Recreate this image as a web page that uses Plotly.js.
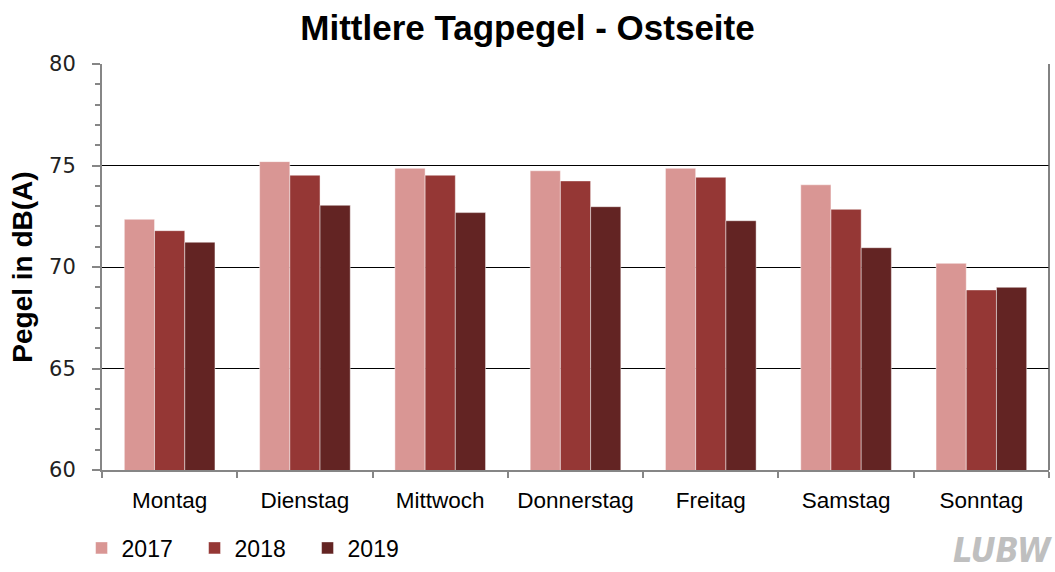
<!DOCTYPE html>
<html>
<head>
<meta charset="utf-8">
<script src="https://cdn.plot.ly/plotly-3.0.1.min.js"></script>
<style>html,body{margin:0;padding:0;background:#fff;}#chart{width:1055px;height:572px;}</style>
</head>
<body>
<div id="chart"></div>
<script>
const categories = ["Montag", "Dienstag", "Mittwoch", "Donnerstag", "Freitag", "Samstag", "Sonntag"];
const values2017 = [72.35, 75.19, 74.86, 74.74, 74.86, 74.05, 70.18];
const values2018 = [71.79, 74.52, 74.52, 74.24, 74.42, 72.84, 68.87];
const values2019 = [71.22, 73.04, 72.68, 72.97, 72.28, 70.95, 69.00];
const seriesNames = ["2017", "2018", "2019"];
const seriesColors = ["#D99694", "#953735", "#632423"];
const yTicks = [60, 65, 70, 75, 80];

const allValues = [values2017, values2018, values2019];
const traces = allValues.map((vals, i) => ({
  type: "bar",
  name: seriesNames[i],
  x: categories,
  y: vals,
  marker: {color: seriesColors[i], line: {color: "rgba(255,255,255,0.45)", width: 1}},
  hoverinfo: "x+y+name"
}));

const font = "Liberation Sans, Arial, sans-serif";
const layout = {
  width: 1055, height: 572,
  margin: {l: 102, r: 6, t: 64, b: 102, autoexpand: false},
  paper_bgcolor: "#fff", plot_bgcolor: "#fff",
  title: {text: "<b>Mittlere Tagpegel - Ostseite</b>", font: {family: font, size: 35, color: "#000"},
          x: 0.5, xanchor: "center", y: 0.951, yanchor: "middle"},
  bargap: 0.33, bargroupgap: 0,
  barmode: "group",
  xaxis: {
    type: "category", automargin: false,
    showline: true, linecolor: "#868686", linewidth: 2,
    ticks: "outside", tickson: "boundaries", ticklen: 6, tickcolor: "#868686", tickwidth: 2,
    tickfont: {family: font, size: 22.5, color: "#000"},
    ticklabelstandoff: 9,
    showgrid: false, zeroline: false
  },
  yaxis: {
    range: [60, 80], tickvals: yTicks, ticktext: yTicks.map(String), automargin: false,
    showline: true, linecolor: "#868686", linewidth: 2,
    ticks: "outside", ticklen: 8, tickcolor: "#868686", tickwidth: 2,
    minor: {dtick: 1, ticks: "outside", ticklen: 5, tickcolor: "#868686", tickwidth: 2, showgrid: false},
    showgrid: true, gridcolor: "#000", gridwidth: 1,
    tickfont: {family: "DejaVu Sans, sans-serif", size: 21, color: "#222"},
    ticklabelstandoff: 12,
    title: {text: "<b>Pegel in dB(A)</b>", font: {family: font, size: 28, color: "#000"}, standoff: 8},
    zeroline: false
  },
  showlegend: true,
  legend: {
    orientation: "h", x: -0.0216, xanchor: "left", y: -0.192, yanchor: "middle",
    font: {family: font, size: 23, color: "#000"},
    entrywidth: 68, entrywidthmode: "pixels", traceorder: "normal",
    bgcolor: "rgba(0,0,0,0)"
  },
  shapes: [
    {type: "line", xref: "paper", yref: "paper", x0: 1, x1: 1, y0: 0, y1: 1, line: {color: "#595959", width: 1.5}}
  ],
  annotations: [
    {text: "<b><i>LUBW</i></b>", xref: "paper", yref: "paper", x: 1.005, y: -0.25, xanchor: "right", yanchor: "bottom",
     showarrow: false, font: {family: "DejaVu Sans Condensed, Liberation Sans Narrow, sans-serif", size: 34, color: "#BFBFBF"}}
  ]
};

Plotly.newPlot("chart", traces, layout, {displayModeBar: false, staticPlot: true});
</script>
</body>
</html>
